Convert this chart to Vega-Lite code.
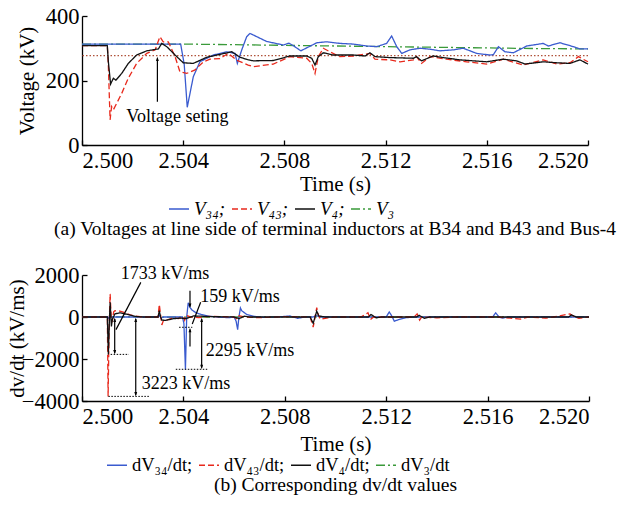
{
  "$schema": "https://vega.github.io/schema/vega-lite/v6.json",
  "padding": {"left": 6, "top": 5, "right": 5, "bottom": 0},
  "background": "white",
  "spacing": 25,
  "config": {
    "view": {"stroke": null},
    "font": "Liberation Serif",
    "axis": {"grid": false, "domainColor": "#000", "tickColor": "#000", "labelColor": "#000", "titleColor": "#000", "labelFont": "Liberation Serif", "titleFont": "Liberation Serif", "labelFontSize": 22.5, "titleFontSize": 21, "titleFontWeight": "normal", "domainWidth": 1.3, "tickWidth": 1.3, "tickSize": -5},
    "legend": {"labelFont": "Liberation Serif", "labelFontSize": 19, "labelColor": "#000", "symbolType": "stroke", "symbolSize": 400, "symbolStrokeWidth": 1.4, "columnPadding": 3, "labelOffset": 4, "padding": 0},
    "title": {"font": "Liberation Serif", "fontSize": 19.5, "fontWeight": "normal", "color": "#000"}
  },
  "resolve": {"scale": {"color": "independent", "strokeDash": "independent"}, "legend": {"color": "independent", "strokeDash": "independent"}},
  "vconcat": [
    {
      "width": 506,
      "height": 129,
      "title": {"text": "(a) Voltages at line side of terminal inductors at B34 and B43 and Bus-4", "orient": "bottom", "offset": 1},
      "layer": [
        {
          "data": {"values": [{"ref": 277}]},
          "mark": {"type": "rule", "color": "#b0523a", "strokeDash": [1.5, 2], "strokeWidth": 1.2},
          "encoding": {"y": {"field": "ref", "type": "quantitative", "scale": {"domain": [0, 400]}}}
        },
        {
          "data": {"values": [
            {"s":"V3","t":2.5000,"v":313},{"s":"V3","t":2.5040,"v":313},{"s":"V3","t":2.5060,"v":311},{"s":"V3","t":2.5080,"v":309},{"s":"V3","t":2.5100,"v":307},{"s":"V3","t":2.5120,"v":305},{"s":"V3","t":2.5140,"v":303},{"s":"V3","t":2.5160,"v":301},{"s":"V3","t":2.5180,"v":299},{"s":"V3","t":2.5200,"v":298},
            {"s":"V34","t":2.5000,"v":313},{"s":"V34","t":2.5039,"v":313},{"s":"V34","t":2.50404,"v":250},{"s":"V34","t":2.50416,"v":117},{"s":"V34","t":2.5044,"v":212},{"s":"V34","t":2.50466,"v":258},{"s":"V34","t":2.50519,"v":279},{"s":"V34","t":2.50572,"v":289},{"s":"V34","t":2.50605,"v":284},{"s":"V34","t":2.50614,"v":253},{"s":"V34","t":2.50631,"v":294},{"s":"V34","t":2.50651,"v":336},{"s":"V34","t":2.50664,"v":346},{"s":"V34","t":2.5073,"v":321},{"s":"V34","t":2.50796,"v":310},{"s":"V34","t":2.50818,"v":316},{"s":"V34","t":2.50835,"v":308},{"s":"V34","t":2.50865,"v":292},{"s":"V34","t":2.50928,"v":317},{"s":"V34","t":2.50967,"v":320},{"s":"V34","t":2.5102,"v":315},{"s":"V34","t":2.51072,"v":313},{"s":"V34","t":2.51125,"v":307},{"s":"V34","t":2.51165,"v":305},{"s":"V34","t":2.51204,"v":315},{"s":"V34","t":2.51224,"v":338},{"s":"V34","t":2.51244,"v":305},{"s":"V34","t":2.51264,"v":284},{"s":"V34","t":2.51296,"v":295},{"s":"V34","t":2.51336,"v":300},{"s":"V34","t":2.51375,"v":297},{"s":"V34","t":2.51415,"v":292},{"s":"V34","t":2.51468,"v":295},{"s":"V34","t":2.51507,"v":300},{"s":"V34","t":2.5156,"v":284},{"s":"V34","t":2.51613,"v":279},{"s":"V34","t":2.51626,"v":280},{"s":"V34","t":2.51646,"v":305},{"s":"V34","t":2.51672,"v":289},{"s":"V34","t":2.51705,"v":286},{"s":"V34","t":2.51758,"v":307},{"s":"V34","t":2.51823,"v":315},{"s":"V34","t":2.51843,"v":307},{"s":"V34","t":2.51889,"v":317},{"s":"V34","t":2.51942,"v":305},{"s":"V34","t":2.51968,"v":298},{"s":"V34","t":2.5200,"v":298},
            {"s":"V43","t":2.5000,"v":308},{"s":"V43","t":2.5010,"v":308},{"s":"V43","t":2.50104,"v":250},{"s":"V43","t":2.50111,"v":78},{"s":"V43","t":2.50117,"v":119},{"s":"V43","t":2.50124,"v":109},{"s":"V43","t":2.50137,"v":129},{"s":"V43","t":2.50157,"v":160},{"s":"V43","t":2.50183,"v":207},{"s":"V43","t":2.50216,"v":253},{"s":"V43","t":2.50256,"v":284},{"s":"V43","t":2.50289,"v":295},{"s":"V43","t":2.50308,"v":336},{"s":"V43","t":2.50321,"v":320},{"s":"V43","t":2.50341,"v":320},{"s":"V43","t":2.50368,"v":274},{"s":"V43","t":2.50387,"v":227},{"s":"V43","t":2.50414,"v":222},{"s":"V43","t":2.50447,"v":233},{"s":"V43","t":2.5048,"v":258},{"s":"V43","t":2.50506,"v":266},{"s":"V43","t":2.50545,"v":268},{"s":"V43","t":2.50578,"v":284},{"s":"V43","t":2.50611,"v":263},{"s":"V43","t":2.50657,"v":248},{"s":"V43","t":2.50677,"v":243},{"s":"V43","t":2.50756,"v":251},{"s":"V43","t":2.50822,"v":274},{"s":"V43","t":2.50888,"v":269},{"s":"V43","t":2.50908,"v":253},{"s":"V43","t":2.50921,"v":222},{"s":"V43","t":2.50934,"v":274},{"s":"V43","t":2.50954,"v":300},{"s":"V43","t":2.5098,"v":289},{"s":"V43","t":2.51019,"v":274},{"s":"V43","t":2.51072,"v":276},{"s":"V43","t":2.51138,"v":284},{"s":"V43","t":2.51158,"v":266},{"s":"V43","t":2.51217,"v":264},{"s":"V43","t":2.51257,"v":258},{"s":"V43","t":2.5131,"v":264},{"s":"V43","t":2.51322,"v":274},{"s":"V43","t":2.51342,"v":253},{"s":"V43","t":2.51375,"v":274},{"s":"V43","t":2.51441,"v":266},{"s":"V43","t":2.5152,"v":258},{"s":"V43","t":2.51599,"v":251},{"s":"V43","t":2.51665,"v":266},{"s":"V43","t":2.51744,"v":248},{"s":"V43","t":2.51823,"v":264},{"s":"V43","t":2.51876,"v":251},{"s":"V43","t":2.51929,"v":255},{"s":"V43","t":2.51962,"v":274},{"s":"V43","t":2.51981,"v":266},{"s":"V43","t":2.5200,"v":258},
            {"s":"V4","t":2.5000,"v":308},{"s":"V4","t":2.5010,"v":308},{"s":"V4","t":2.50104,"v":260},{"s":"V4","t":2.50113,"v":189},{"s":"V4","t":2.50124,"v":207},{"s":"V4","t":2.50134,"v":201},{"s":"V4","t":2.50157,"v":222},{"s":"V4","t":2.50183,"v":253},{"s":"V4","t":2.50216,"v":279},{"s":"V4","t":2.50256,"v":292},{"s":"V4","t":2.50302,"v":298},{"s":"V4","t":2.50315,"v":315},{"s":"V4","t":2.50335,"v":305},{"s":"V4","t":2.50368,"v":279},{"s":"V4","t":2.504,"v":255},{"s":"V4","t":2.5044,"v":253},{"s":"V4","t":2.50493,"v":272},{"s":"V4","t":2.50545,"v":281},{"s":"V4","t":2.50592,"v":289},{"s":"V4","t":2.50625,"v":272},{"s":"V4","t":2.50657,"v":264},{"s":"V4","t":2.50677,"v":261},{"s":"V4","t":2.50756,"v":262},{"s":"V4","t":2.50822,"v":276},{"s":"V4","t":2.50888,"v":276},{"s":"V4","t":2.50908,"v":269},{"s":"V4","t":2.50921,"v":248},{"s":"V4","t":2.50934,"v":274},{"s":"V4","t":2.50954,"v":286},{"s":"V4","t":2.50993,"v":279},{"s":"V4","t":2.51072,"v":279},{"s":"V4","t":2.51119,"v":276},{"s":"V4","t":2.51138,"v":286},{"s":"V4","t":2.51158,"v":274},{"s":"V4","t":2.51217,"v":271},{"s":"V4","t":2.5131,"v":269},{"s":"V4","t":2.51322,"v":274},{"s":"V4","t":2.51342,"v":261},{"s":"V4","t":2.51388,"v":276},{"s":"V4","t":2.51428,"v":271},{"s":"V4","t":2.51494,"v":264},{"s":"V4","t":2.51599,"v":258},{"s":"V4","t":2.51665,"v":266},{"s":"V4","t":2.51718,"v":261},{"s":"V4","t":2.51751,"v":251},{"s":"V4","t":2.51823,"v":258},{"s":"V4","t":2.51876,"v":255},{"s":"V4","t":2.51929,"v":253},{"s":"V4","t":2.51968,"v":264},{"s":"V4","t":2.5200,"v":251}
          ]},
          "mark": {"type": "line", "strokeWidth": 1.3},
          "encoding": {
            "x": {"field": "t", "type": "quantitative", "scale": {"domain": [2.5, 2.52], "nice": false, "zero": false}, "axis": {"values": [2.5, 2.504, 2.508, 2.512, 2.516, 2.52], "format": ".3f", "title": "Time (s)", "labelPadding": 9, "titlePadding": 2}},
            "y": {"field": "v", "type": "quantitative", "scale": {"domain": [0, 400], "nice": false}, "axis": {"values": [0, 200, 400], "format": "d", "title": "Voltage (kV)", "titleX": -45, "labelPadding": 8}},
            "color": {"field": "s", "type": "nominal", "scale": {"domain": ["V34", "V43", "V4", "V3"], "range": ["#3a5bcf", "#e8291c", "#111111", "#3a9a3a"]}, "legend": {"title": null, "orient": "none", "legendX": 86, "legendY": 182, "direction": "horizontal", "labelFontStyle": "italic", "labelExpr": "datum.label == 'V34' ? 'V₃₄;' : datum.label == 'V43' ? 'V₄₃;' : datum.label == 'V4' ? 'V₄;' : 'V₃'"}},
            "strokeDash": {"field": "s", "type": "nominal", "scale": {"domain": ["V34", "V43", "V4", "V3"], "range": [[1, 0], [6, 3], [1, 0], [9, 3, 2, 3]]}, "legend": {"title": null, "orient": "none", "legendX": 86, "legendY": 182, "direction": "horizontal", "labelFontStyle": "italic", "labelExpr": "datum.label == 'V34' ? 'V₃₄;' : datum.label == 'V43' ? 'V₄₃;' : datum.label == 'V4' ? 'V₄;' : 'V₃'"}}
          }
        },
        {
          "data": {"values": [{"t": 2.50298, "v1": 134, "v2": 268}]},
          "mark": {"type": "rule", "color": "#000", "strokeWidth": 1.2},
          "encoding": {"x": {"field": "t", "type": "quantitative"}, "y": {"field": "v1", "type": "quantitative"}, "y2": {"field": "v2"}}
        },
        {
          "data": {"values": [{"t": 2.50298, "v": 274}]},
          "mark": {"type": "point", "shape": "M0,0L-0.45,1.4L0.45,1.4Z", "filled": true, "color": "#000", "opacity": 1, "size": 40},
          "encoding": {"x": {"field": "t", "type": "quantitative"}, "y": {"field": "v", "type": "quantitative"}}
        },
        {
          "data": {"values": [{"t": 2.50377, "v": 88, "label": "Voltage seting"}]},
          "mark": {"type": "text", "font": "Liberation Serif", "fontSize": 18, "color": "#000"},
          "encoding": {"x": {"field": "t", "type": "quantitative"}, "y": {"field": "v", "type": "quantitative"}, "text": {"field": "label"}}
        }
      ]
    },
    {
      "width": 507,
      "height": 126,
      "title": {"text": "(b) Corresponding dv/dt values", "orient": "bottom", "offset": 1},
      "layer": [
        {
          "data": {"values": [
            {"s":"dV3","t":2.5000,"v":0},{"s":"dV3","t":2.5020,"v":10},{"s":"dV3","t":2.5040,"v":-10},{"s":"dV3","t":2.5060,"v":0},{"s":"dV3","t":2.5080,"v":10},{"s":"dV3","t":2.5100,"v":0},{"s":"dV3","t":2.5120,"v":-10},{"s":"dV3","t":2.5140,"v":10},{"s":"dV3","t":2.5160,"v":0},{"s":"dV3","t":2.5180,"v":10},{"s":"dV3","t":2.5200,"v":0},
            {"s":"dV34","t":2.5000,"v":0},{"s":"dV34","t":2.5010,"v":0},{"s":"dV34","t":2.50104,"v":-60},{"s":"dV34","t":2.5011,"v":60},{"s":"dV34","t":2.50116,"v":0},{"s":"dV34","t":2.5030,"v":0},{"s":"dV34","t":2.50306,"v":80},{"s":"dV34","t":2.50312,"v":-60},{"s":"dV34","t":2.5032,"v":0},{"s":"dV34","t":2.50396,"v":0},{"s":"dV34","t":2.50402,"v":-300},{"s":"dV34","t":2.50408,"v":-2500},{"s":"dV34","t":2.50413,"v":0},{"s":"dV34","t":2.50419,"v":680},{"s":"dV34","t":2.50426,"v":450},{"s":"dV34","t":2.50435,"v":320},{"s":"dV34","t":2.5045,"v":200},{"s":"dV34","t":2.5047,"v":120},{"s":"dV34","t":2.505,"v":40},{"s":"dV34","t":2.5053,"v":0},{"s":"dV34","t":2.5058,"v":-30},{"s":"dV34","t":2.506,"v":0},{"s":"dV34","t":2.50608,"v":-200},{"s":"dV34","t":2.50614,"v":-600},{"s":"dV34","t":2.50619,"v":0},{"s":"dV34","t":2.50625,"v":430},{"s":"dV34","t":2.5063,"v":300},{"s":"dV34","t":2.5065,"v":120},{"s":"dV34","t":2.5068,"v":30},{"s":"dV34","t":2.5072,"v":-20},{"s":"dV34","t":2.5078,"v":10},{"s":"dV34","t":2.5082,"v":50},{"s":"dV34","t":2.5085,"v":-60},{"s":"dV34","t":2.5088,"v":0},{"s":"dV34","t":2.5091,"v":0},{"s":"dV34","t":2.50925,"v":60},{"s":"dV34","t":2.5094,"v":0},{"s":"dV34","t":2.512,"v":0},{"s":"dV34","t":2.51212,"v":240},{"s":"dV34","t":2.51222,"v":50},{"s":"dV34","t":2.51232,"v":-200},{"s":"dV34","t":2.5125,"v":-120},{"s":"dV34","t":2.5128,"v":-30},{"s":"dV34","t":2.5131,"v":0},{"s":"dV34","t":2.5162,"v":0},{"s":"dV34","t":2.51632,"v":200},{"s":"dV34","t":2.51645,"v":0},{"s":"dV34","t":2.5166,"v":-50},{"s":"dV34","t":2.5168,"v":0},{"s":"dV34","t":2.52,"v":0},
            {"s":"dV43","t":2.5000,"v":0},{"s":"dV43","t":2.5010,"v":0},{"s":"dV43","t":2.50103,"v":-3780},{"s":"dV43","t":2.50107,"v":-500},{"s":"dV43","t":2.50111,"v":1100},{"s":"dV43","t":2.50115,"v":0},{"s":"dV43","t":2.50119,"v":-250},{"s":"dV43","t":2.50125,"v":250},{"s":"dV43","t":2.5013,"v":300},{"s":"dV43","t":2.5015,"v":280},{"s":"dV43","t":2.5017,"v":200},{"s":"dV43","t":2.5019,"v":100},{"s":"dV43","t":2.5021,"v":40},{"s":"dV43","t":2.5024,"v":0},{"s":"dV43","t":2.503,"v":0},{"s":"dV43","t":2.50305,"v":600},{"s":"dV43","t":2.5031,"v":100},{"s":"dV43","t":2.50315,"v":-380},{"s":"dV43","t":2.5032,"v":-200},{"s":"dV43","t":2.5034,"v":-120},{"s":"dV43","t":2.5036,"v":-40},{"s":"dV43","t":2.5038,"v":-80},{"s":"dV43","t":2.504,"v":0},{"s":"dV43","t":2.50405,"v":-150},{"s":"dV43","t":2.5041,"v":80},{"s":"dV43","t":2.5043,"v":0},{"s":"dV43","t":2.5046,"v":-30},{"s":"dV43","t":2.505,"v":30},{"s":"dV43","t":2.506,"v":0},{"s":"dV43","t":2.50612,"v":-100},{"s":"dV43","t":2.5062,"v":60},{"s":"dV43","t":2.5064,"v":0},{"s":"dV43","t":2.507,"v":-30},{"s":"dV43","t":2.508,"v":20},{"s":"dV43","t":2.509,"v":0},{"s":"dV43","t":2.50912,"v":-480},{"s":"dV43","t":2.50918,"v":-100},{"s":"dV43","t":2.50926,"v":450},{"s":"dV43","t":2.50932,"v":100},{"s":"dV43","t":2.5094,"v":-100},{"s":"dV43","t":2.5097,"v":-40},{"s":"dV43","t":2.51,"v":0},{"s":"dV43","t":2.511,"v":0},{"s":"dV43","t":2.51128,"v":200},{"s":"dV43","t":2.51138,"v":-120},{"s":"dV43","t":2.5115,"v":0},{"s":"dV43","t":2.5131,"v":0},{"s":"dV43","t":2.51322,"v":150},{"s":"dV43","t":2.51332,"v":-150},{"s":"dV43","t":2.5134,"v":0},{"s":"dV43","t":2.514,"v":-40},{"s":"dV43","t":2.5148,"v":0},{"s":"dV43","t":2.5164,"v":0},{"s":"dV43","t":2.5173,"v":-100},{"s":"dV43","t":2.5176,"v":0},{"s":"dV43","t":2.5183,"v":-50},{"s":"dV43","t":2.5186,"v":0},{"s":"dV43","t":2.51925,"v":150},{"s":"dV43","t":2.5194,"v":30},{"s":"dV43","t":2.5196,"v":-60},{"s":"dV43","t":2.52,"v":0},
            {"s":"dV4","t":2.5000,"v":0},{"s":"dV4","t":2.5010,"v":0},{"s":"dV4","t":2.50104,"v":-1780},{"s":"dV4","t":2.50108,"v":-200},{"s":"dV4","t":2.50111,"v":700},{"s":"dV4","t":2.50116,"v":-450},{"s":"dV4","t":2.5012,"v":-100},{"s":"dV4","t":2.5013,"v":150},{"s":"dV4","t":2.5015,"v":200},{"s":"dV4","t":2.5018,"v":120},{"s":"dV4","t":2.5021,"v":30},{"s":"dV4","t":2.5024,"v":0},{"s":"dV4","t":2.503,"v":0},{"s":"dV4","t":2.50305,"v":300},{"s":"dV4","t":2.5031,"v":0},{"s":"dV4","t":2.50315,"v":-150},{"s":"dV4","t":2.5033,"v":-160},{"s":"dV4","t":2.5036,"v":-80},{"s":"dV4","t":2.5039,"v":-50},{"s":"dV4","t":2.5041,"v":-80},{"s":"dV4","t":2.5044,"v":50},{"s":"dV4","t":2.5047,"v":40},{"s":"dV4","t":2.505,"v":20},{"s":"dV4","t":2.506,"v":0},{"s":"dV4","t":2.5062,"v":-80},{"s":"dV4","t":2.5064,"v":40},{"s":"dV4","t":2.5066,"v":0},{"s":"dV4","t":2.509,"v":0},{"s":"dV4","t":2.50912,"v":-300},{"s":"dV4","t":2.50918,"v":-50},{"s":"dV4","t":2.50926,"v":280},{"s":"dV4","t":2.50934,"v":50},{"s":"dV4","t":2.5096,"v":0},{"s":"dV4","t":2.5113,"v":0},{"s":"dV4","t":2.5114,"v":120},{"s":"dV4","t":2.5116,"v":-40},{"s":"dV4","t":2.5118,"v":0},{"s":"dV4","t":2.5132,"v":0},{"s":"dV4","t":2.5133,"v":80},{"s":"dV4","t":2.5135,"v":-60},{"s":"dV4","t":2.5137,"v":0},{"s":"dV4","t":2.5192,"v":0},{"s":"dV4","t":2.5193,"v":100},{"s":"dV4","t":2.5195,"v":0},{"s":"dV4","t":2.52,"v":0}
          ]},
          "mark": {"type": "line", "strokeWidth": 1.3},
          "encoding": {
            "x": {"field": "t", "type": "quantitative", "scale": {"domain": [2.5, 2.52], "nice": false, "zero": false}, "axis": {"values": [2.5, 2.504, 2.508, 2.512, 2.516, 2.52], "format": ".3f", "title": "Time (s)", "labelPadding": 9, "titlePadding": 6}},
            "y": {"field": "v", "type": "quantitative", "scale": {"domain": [-4000, 2000], "nice": false}, "axis": {"values": [-4000, -2000, 0, 2000], "format": "d", "title": "dv/dt (kV/ms)", "titleX": -55, "labelPadding": 8}},
            "color": {"field": "s", "type": "nominal", "scale": {"domain": ["dV34", "dV43", "dV4", "dV3"], "range": ["#3a5bcf", "#e8291c", "#111111", "#3a9a3a"]}, "legend": {"title": null, "orient": "none", "legendX": 24, "legendY": 179, "labelFontSize": 18.5, "direction": "horizontal", "labelExpr": "datum.label == 'dV34' ? 'dV₃₄/dt;' : datum.label == 'dV43' ? 'dV₄₃/dt;' : datum.label == 'dV4' ? 'dV₄/dt;' : 'dV₃/dt'"}},
            "strokeDash": {"field": "s", "type": "nominal", "scale": {"domain": ["dV34", "dV43", "dV4", "dV3"], "range": [[1, 0], [6, 3], [1, 0], [9, 3, 2, 3]]}, "legend": {"title": null, "orient": "none", "legendX": 24, "legendY": 179, "labelFontSize": 18.5, "direction": "horizontal", "labelExpr": "datum.label == 'dV34' ? 'dV₃₄/dt;' : datum.label == 'dV43' ? 'dV₄₃/dt;' : datum.label == 'dV4' ? 'dV₄/dt;' : 'dV₃/dt'"}}
          }
        },
        {
          "data": {"values": [
            {"t": 2.50113, "t2": 2.50185, "v": -1780},
            {"t": 2.50104, "t2": 2.50264, "v": -3780},
            {"t": 2.50383, "t2": 2.50435, "v": -490},
            {"t": 2.5037, "t2": 2.50494, "v": -2490}
          ]},
          "mark": {"type": "rule", "color": "#000", "strokeDash": [1.5, 1.5], "strokeWidth": 1},
          "encoding": {"x": {"field": "t", "type": "quantitative"}, "x2": {"field": "t2"}, "y": {"field": "v", "type": "quantitative"}}
        },
        {
          "data": {"values": [
            {"t": 2.50129, "t2": 2.50129, "v": -100, "v2": -1700},
            {"t": 2.50212, "t2": 2.50212, "v": -100, "v2": -3700},
            {"t": 2.50472, "t2": 2.50472, "v": -100, "v2": -2400},
            {"t": 2.50426, "t2": 2.50426, "v": 1250, "v2": 500},
            {"t": 2.50426, "t2": 2.50426, "v": -1400, "v2": -600},
            {"t": 2.50232, "t2": 2.50134, "v": 1650, "v2": -600},
            {"t": 2.50468, "t2": 2.50435, "v": 700, "v2": -330}
          ]},
          "mark": {"type": "rule", "color": "#000", "strokeWidth": 1.2},
          "encoding": {"x": {"field": "t", "type": "quantitative"}, "x2": {"field": "t2"}, "y": {"field": "v", "type": "quantitative"}, "y2": {"field": "v2"}}
        },
        {
          "data": {"values": [
            {"t": 2.50129, "v": -30},
            {"t": 2.50212, "v": -30},
            {"t": 2.50472, "v": -30},
            {"t": 2.50426, "v": -520}
          ]},
          "mark": {"type": "point", "shape": "M0,0L-0.45,1.4L0.45,1.4Z", "filled": true, "color": "#000", "opacity": 1, "size": 40},
          "encoding": {"x": {"field": "t", "type": "quantitative"}, "y": {"field": "v", "type": "quantitative"}}
        },
        {
          "data": {"values": [
            {"t": 2.50129, "v": -1780},
            {"t": 2.50212, "v": -3780},
            {"t": 2.50472, "v": -2490},
            {"t": 2.50426, "v": 430}
          ]},
          "mark": {"type": "point", "shape": "M0,0L-0.45,-1.4L0.45,-1.4Z", "filled": true, "color": "#000", "opacity": 1, "size": 40},
          "encoding": {"x": {"field": "t", "type": "quantitative"}, "y": {"field": "v", "type": "quantitative"}}
        },
        {
          "data": {"values": [
            {"t": 2.50327, "v": 2040, "label": "1733 kV/ms"},
            {"t": 2.5041, "v": -3210, "label": "3223 kV/ms"},
            {"t": 2.50623, "v": 930, "label": "159 kV/ms"},
            {"t": 2.50663, "v": -1630, "label": "2295 kV/ms"}
          ]},
          "mark": {"type": "text", "font": "Liberation Serif", "fontSize": 18, "color": "#000"},
          "encoding": {"x": {"field": "t", "type": "quantitative"}, "y": {"field": "v", "type": "quantitative"}, "text": {"field": "label"}}
        }
      ]
    }
  ]
}
